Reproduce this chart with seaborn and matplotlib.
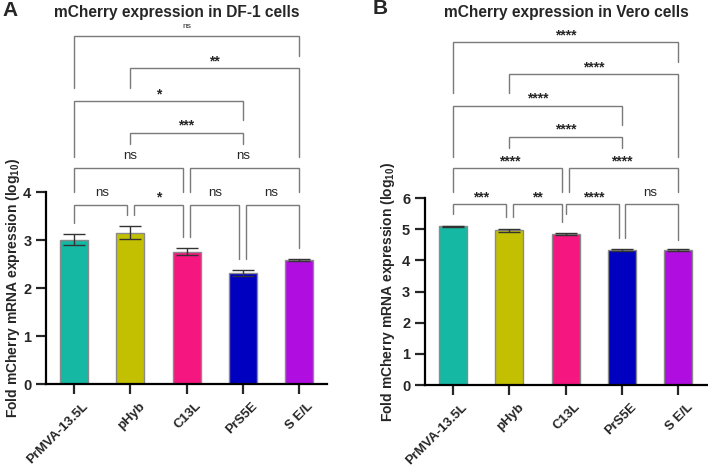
import matplotlib
matplotlib.use('Agg')
import matplotlib.pyplot as plt
import matplotlib.transforms as mtransforms
import seaborn as sns

# Data
constructs = ['PrMVA-13.5L', 'pHyb', 'C13L', 'PrS5E', 'S E/L']
bar_colors = ['#14B8A3', '#C2C000', '#F5177F', '#0000C0', '#B00EE0']

df1_mean = [3.01, 3.16, 2.76, 2.32, 2.59]
df1_err = [0.11, 0.13, 0.07, 0.06, 0.02]

vero_mean = [5.10, 4.97, 4.85, 4.33, 4.33]
vero_err = [0.01, 0.05, 0.02, 0.03, 0.03]

# brackets: (i, j, height, left leg bottom, right leg bottom, left shift, right shift, label)
df1_brackets = [
    (0, 1, 3.74, 3.35, 3.52, 0.0, -0.06, 'ns'),
    (1, 2, 3.74, 3.52, 3.07, 0.06, -0.06, '*'),
    (2, 3, 3.74, 3.07, 2.60, 0.06, -0.06, 'ns'),
    (3, 4, 3.74, 2.60, 2.83, 0.06, 0.0, 'ns'),
    (0, 2, 4.51, 4.01, 4.01, 0.0, -0.06, 'ns'),
    (2, 4, 4.51, 4.01, 4.01, 0.06, 0.0, 'ns'),
    (1, 3, 5.24, 5.01, 5.01, 0.0, 0.0, '***'),
    (0, 3, 5.90, 4.74, 5.50, 0.0, 0.0, '*'),
    (1, 4, 6.58, 6.17, 4.74, 0.0, 0.0, '**'),
    (0, 4, 7.26, 6.17, 6.83, 0.0, 0.0, 'ns'),
]
vero_brackets = [
    (0, 1, 5.81, 5.49, 5.38, 0.0, -0.06, '***'),
    (1, 2, 5.81, 5.41, 5.25, 0.06, -0.06, '**'),
    (2, 3, 5.81, 5.49, 4.72, 0.0, -0.06, '****'),
    (3, 4, 5.81, 4.72, 4.66, 0.06, 0.0, 'ns'),
    (0, 2, 6.96, 6.21, 6.21, 0.0, -0.06, '****'),
    (2, 4, 6.96, 6.21, 6.21, 0.05, 0.0, '****'),
    (1, 3, 7.97, 7.60, 7.60, 0.0, 0.0, '****'),
    (0, 3, 8.97, 7.31, 8.35, 0.0, 0.0, '****'),
    (1, 4, 9.98, 9.37, 7.33, 0.0, 0.0, '****'),
    (0, 4, 11.00, 9.37, 10.36, 0.0, 0.0, '****'),
]

sns.set_style('ticks')
plt.rcParams['font.family'] = ['Liberation Sans', 'DejaVu Sans']
plt.rcParams['mathtext.fontset'] = 'custom'
plt.rcParams['mathtext.bf'] = 'Liberation Sans:bold'
plt.rcParams['mathtext.rm'] = 'Liberation Sans:bold'
plt.rcParams['mathtext.default'] = 'bf'

fig = plt.figure(figsize=(7.08, 4.69), dpi=100)
ax_a = fig.add_axes([0.065, 0.181, 0.397, 0.759])
ax_b = fig.add_axes([0.600, 0.179, 0.398, 0.761])


def draw_panel(ax, means, errs, brackets, ymax, ytop, small_top):
    sns.barplot(x=constructs, y=means, hue=constructs, palette=bar_colors, legend=False,
                width=0.5, saturation=1, edgecolor='#8a8a8a', linewidth=1.0, ax=ax)
    ax.errorbar(range(len(constructs)), means, yerr=errs, fmt='none', ecolor='#333333',
                elinewidth=1.0, capsize=8, capthick=1.0)
    ax.set_xlim(-0.5, 4.5)
    ax.set_ylim(0, ytop)
    ax.set_yticks(range(0, ymax + 1))
    ax.spines['left'].set_bounds(0, ymax)
    ax.spines['top'].set_visible(False)
    ax.spines['right'].set_visible(False)
    for s in ['left', 'bottom']:
        ax.spines[s].set_linewidth(1.6)
        ax.spines[s].set_color('black')
    ax.tick_params(axis='both', width=1.6, length=7, labelsize=10.5)
    for lab in ax.get_yticklabels():
        lab.set_fontweight('bold')
    ax.set_xticks(range(len(constructs)))
    ax.set_xticklabels(constructs, rotation=45, ha='right', rotation_mode='anchor',
                       fontweight='bold', fontsize=9.5)
    offset = mtransforms.ScaledTranslation(6 / 72, -1 / 72, fig.dpi_scale_trans)
    for lab in ax.get_xticklabels():
        lab.set_transform(lab.get_transform() + offset)
    ax.set_xlabel('')

    for k, (i, j, h, yl, yr, dl, dr, label) in enumerate(brackets):
        xl, xr = i + dl, j + dr
        ax.plot([xl, xl, xr, xr], [yl, h, h, yr], color='#7a7a7a', lw=1.0,
                solid_joinstyle='miter', clip_on=False)
        small = small_top and k == len(brackets) - 1
        star = '*' in label
        ax.annotate(label, xy=((i + j) / 2, h), xytext=(0, 0 if star else 4),
                    textcoords='offset points', ha='center', va='bottom',
                    fontsize=6 if small else (10 if star else 9.5),
                    fontweight='bold' if star else 'normal', clip_on=False)


draw_panel(ax_a, df1_mean, df1_err, df1_brackets, 4, 7.42, True)
draw_panel(ax_b, vero_mean, vero_err, vero_brackets, 6, 11.46, False)

ylab = 'Fold mCherry mRNA expression (log$_{10}$)'
ax_a.set_ylabel(ylab, fontweight='bold', fontsize=10)
ax_a.yaxis.set_label_coords(-0.087, 0.27)
ax_b.set_ylabel(ylab, fontweight='bold', fontsize=10)
ax_b.yaxis.set_label_coords(-0.100, 0.26)

fig.text(0.25, 0.974, 'mCherry expression in DF-1 cells', ha='center', va='center',
         fontsize=11.2, fontweight='bold')
fig.text(0.80, 0.974, 'mCherry expression in Vero cells', ha='center', va='center',
         fontsize=11.2, fontweight='bold')
fig.text(0.003, 0.978, 'A', ha='left', va='center', fontsize=15, fontweight='bold')
fig.text(0.527, 0.982, 'B', ha='left', va='center', fontsize=15, fontweight='bold')

fig.savefig('out.png', dpi=100)
